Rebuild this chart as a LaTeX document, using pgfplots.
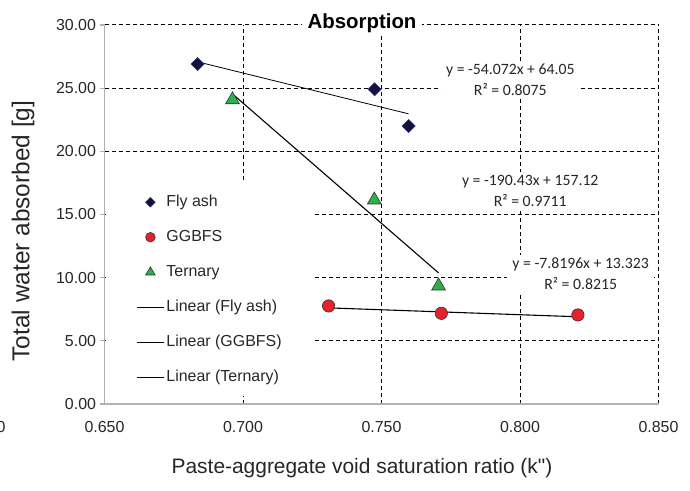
\documentclass[border=0pt]{standalone}
\usepackage{pgfplots}
\pgfplotsset{compat=1.18}
\usepackage{fontspec}
\setmainfont{Liberation Sans}
\newfontfamily\rawsans[Ligatures=TeXOff]{Liberation Sans}
\newfontfamily\calib{Carlito}

\definecolor{flyfill}{HTML}{12123A}
\definecolor{flyedge}{HTML}{2A2A80}
\definecolor{ggred}{HTML}{E8202A}
\definecolor{tergreen}{HTML}{2DAF4A}

\pgfplotsset{
    markleg/.style={legend image code/.code={\draw[##1, mark size=#1] plot coordinates {(13.5bp,0bp)};}},
    lineleg/.style={legend image code/.code={\draw[##1] (0bp,0bp) -- (27bp,0bp);}},
}

\begin{document}
\begin{tikzpicture}
\useasboundingbox (0,0) rectangle (690bp,491bp);
\begin{axis}[
    at={(104.5bp,87bp)}, anchor=south west,
    scale only axis, width=554bp, height=379bp,
    xmin=0.65, xmax=0.85, ymin=0, ymax=30,
    xtick={0.65,0.70,0.75,0.80,0.85},
    ytick={0,5,10,15,20,25,30},
    axis x line*=bottom, axis y line*=left,
    axis line style={gray!60, line width=1.3bp},
    grid=major,
    major grid style={black, dash pattern=on 4bp off 3bp, line width=1bp},
    tick align=outside, major tick length=5bp,
    tick style={gray!60, line width=1.1bp},
    x tick style={draw=none},
    /pgf/number format/assume math mode=true,
    ticklabel style={font=\fontsize{16}{18}\selectfont, text=black!85},
    xticklabel style={/pgf/number format/fixed, /pgf/number format/fixed zerofill,
        /pgf/number format/precision=3, yshift=-9bp},
    yticklabel style={/pgf/number format/fixed, /pgf/number format/fixed zerofill,
        /pgf/number format/precision=2},
    legend style={at={(0.003,0.583)}, anchor=north west, draw=none, fill=white,
        font=\fontsize{16}{18}\selectfont, text=black!85,
        inner xsep=30bp, inner ysep=12bp, row sep=21bp,
        nodes={inner ysep=0pt, text height=11bp, text depth=3bp}},
    legend cell align=left,
    clip=false,
]
% measured points
\addplot[only marks, mark=square*, mark size=4.6bp,
    mark options={rotate=45, fill=flyfill, draw=flyedge, line width=0.6bp},
    markleg=3.4bp]
    coordinates {(0.6836,26.91) (0.7475,24.91) (0.7598,22.00)};
\addlegendentry{Fly ash}
\addplot[only marks, mark=*, mark size=6.2bp,
    mark options={fill=ggred, draw=black!80, line width=0.6bp},
    markleg=4.8bp]
    coordinates {(0.7309,7.76) (0.7716,7.18) (0.8209,7.05)};
\addlegendentry{GGBFS}
\addplot[only marks, mark=triangle*, mark size=8bp,
    mark options={fill=tergreen, draw=black!80, line width=0.6bp},
    markleg=5.5bp]
    coordinates {(0.6962,24.08) (0.7474,16.15) (0.7706,9.34)};
\addlegendentry{Ternary}
% linear trend lines
\addplot[black, line width=0.8bp, mark=none, lineleg]
    coordinates {(0.6836,27.086) (0.7598,22.966)};
\addlegendentry{Linear (Fly ash)}
\addplot[black, line width=1.1bp, mark=none, lineleg]
    coordinates {(0.7309,7.608) (0.8209,6.904)};
\addlegendentry{Linear (GGBFS)}
\addplot[black, line width=1.1bp, mark=none, lineleg]
    coordinates {(0.6962,24.543) (0.7706,10.375)};
\addlegendentry{Linear (Ternary)}

\tikzset{eq/.style={fill=white, inner xsep=5bp, inner ysep=3bp, align=center,
    text=black!85, font=\calib\fontsize{15.8}{21}\selectfont}}
\node[eq] at (axis cs:0.7965,25.69) {y = -54.072x + 64.05\\R² = 0.8075};
\node[eq] at (axis cs:0.8037,16.90) {y = -190.43x + 157.12\\R² = 0.9711};
\node[eq] at (axis cs:0.8219,10.33) {y = -7.8196x + 13.323\\R² = 0.8215};
\end{axis}

\node[fill=white, inner xsep=6bp, inner ysep=1bp, font=\bfseries\fontsize{20.5}{24}\selectfont]
    at (362bp,468bp) {Absorption};
\node[rotate=90, text=black!85, font=\fontsize{24.5}{26}\selectfont] at (23bp,260bp) {Total water absorbed [g]};
\node[text=black!85, font=\rawsans\fontsize{21}{24}\selectfont] at (362bp,23bp) {Paste-aggregate void saturation ratio (k")};
\node[anchor=east, text=black!85, font=\fontsize{16}{18}\selectfont] at (9bp,64bp) {0};
\end{tikzpicture}
\end{document}
